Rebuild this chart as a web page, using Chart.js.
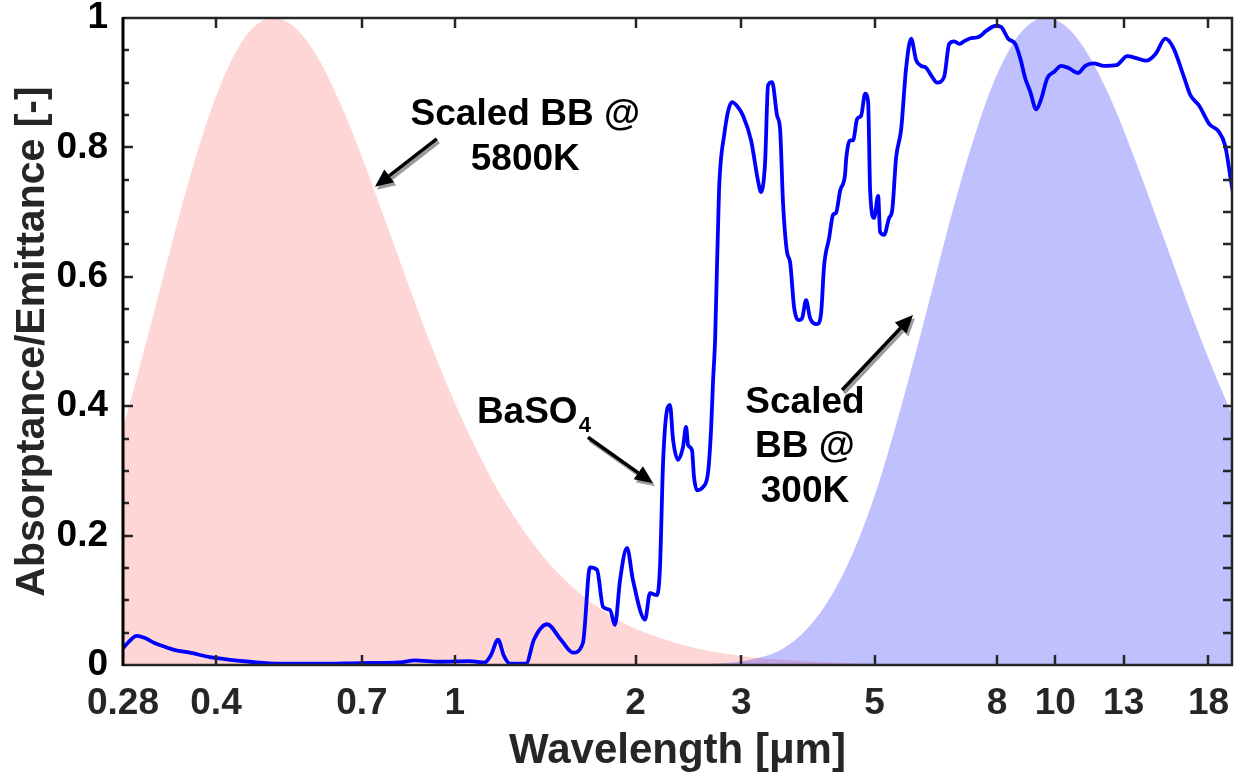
<!DOCTYPE html>
<html>
<head>
<meta charset="utf-8">
<script src="https://cdn.jsdelivr.net/npm/chart.js@4"></script>
<style>
  html, body { margin: 0; padding: 0; background: #fff; overflow: hidden; }
  #wrap { width: 1234px; height: 772px; overflow: hidden; }
</style>
</head>
<body>
<div id="wrap"><canvas id="myChart" width="1234" height="800"></canvas></div>
<script>
// scaled blackbody @ 5800K
const sunWl = [0.28, 0.30, 0.32, 0.34, 0.36, 0.38, 0.40, 0.42, 0.45, 0.48, 0.50, 0.53, 0.56, 0.60, 0.65, 0.70, 0.75, 0.80, 0.90, 1.0, 1.1, 1.2, 1.4, 1.6, 1.8, 2.0, 2.3, 2.6, 3.0, 3.5, 4.0, 5.0, 7.0, 10, 20];
const sunVal = [0.366, 0.468, 0.568, 0.662, 0.747, 0.819, 0.879, 0.926, 0.974, 0.997, 1.0, 0.992, 0.971, 0.928, 0.860, 0.785, 0.710, 0.638, 0.509, 0.405, 0.323, 0.258, 0.169, 0.114, 0.079, 0.056, 0.036, 0.023, 0.014, 0.008, 0.005, 0.002, 0.001, 0.0, 0.0];

// scaled blackbody @ 300K (blue area)
const earthWl = [2.5, 2.9, 3.1, 3.5, 3.87, 4.25, 4.64, 5.03, 5.41, 5.8, 6.19, 6.57, 6.96, 7.35, 7.73, 8.12, 8.7, 9.28, 9.67, 10.25, 10.83, 11.6, 12.57, 13.53, 14.5, 15.47, 17.4, 19.33, 20];
const earthVal = [0.0006, 0.004, 0.008, 0.024, 0.057, 0.109, 0.181, 0.268, 0.366, 0.468, 0.568, 0.662, 0.747, 0.819, 0.879, 0.926, 0.974, 0.997, 1.0, 0.992, 0.971, 0.928, 0.860, 0.785, 0.710, 0.638, 0.509, 0.405, 0.374];

// BaSO4 absorptance / emittance
const baso4Wl = [0.28, 0.287, 0.295, 0.304, 0.316, 0.329, 0.342, 0.362, 0.391, 0.422, 0.455, 0.511, 0.596, 0.695, 0.81, 0.858, 0.944, 1.059, 1.122, 1.148,
  1.18, 1.207, 1.235, 1.314, 1.354, 1.424, 1.502, 1.573, 1.634, 1.679, 1.725, 1.765, 1.813, 1.848, 1.884, 1.935, 1.98, 2.074, 2.113, 2.171,
  2.196, 2.222, 2.256, 2.282, 2.309, 2.353, 2.399, 2.427, 2.446, 2.483, 2.502, 2.531, 2.59, 2.64, 2.671, 2.692, 2.713, 2.754, 2.808, 2.895,
  2.951, 3.02, 3.114, 3.199, 3.236, 3.286, 3.324, 3.376, 3.441, 3.481, 3.521, 3.575, 3.617, 3.673, 3.744, 3.788, 3.846, 3.906, 4.012, 4.074,
  4.121, 4.201, 4.266, 4.315, 4.382, 4.467, 4.484, 4.553, 4.606, 4.677, 4.75, 4.824, 4.879, 4.917, 4.993, 5.07, 5.109, 5.188, 5.289, 5.35,
  5.433, 5.538, 5.645, 5.754, 5.865, 5.979, 6.095, 6.237, 6.358, 6.531, 6.658, 6.787, 6.918, 7.052, 7.189, 7.47, 7.674, 7.974, 8.128, 8.35,
  8.577, 8.743, 8.913, 9.086, 9.297, 9.477, 9.698, 9.962, 10.23, 10.51, 10.92, 11.22, 11.57, 12.07, 12.64, 13.18, 13.65, 14.18, 14.68, 15.26,
  15.73, 16.41, 16.79, 17.38, 18.06, 18.7, 19.2, 19.58, 19.88];
const baso4Val = [0.026, 0.037, 0.045, 0.042, 0.034, 0.028, 0.023, 0.019, 0.012, 0.008, 0.005, 0.002, 0.002, 0.003, 0.004, 0.007, 0.005, 0.006, 0.004, 0.015,
  0.039, 0.014, 0.002, 0.002, 0.039, 0.063, 0.039, 0.019, 0.034, 0.151, 0.147, 0.090, 0.085, 0.062, 0.131, 0.181, 0.131, 0.070, 0.111, 0.108,
  0.151, 0.312, 0.394, 0.402, 0.348, 0.317, 0.337, 0.368, 0.340, 0.332, 0.291, 0.270, 0.275, 0.297, 0.363, 0.440, 0.502, 0.733, 0.818, 0.870,
  0.864, 0.849, 0.811, 0.748, 0.731, 0.776, 0.896, 0.901, 0.849, 0.828, 0.713, 0.638, 0.623, 0.553, 0.533, 0.536, 0.564, 0.536, 0.527, 0.544,
  0.617, 0.660, 0.696, 0.699, 0.733, 0.759, 0.781, 0.811, 0.811, 0.844, 0.849, 0.883, 0.870, 0.733, 0.691, 0.725, 0.669, 0.665, 0.691, 0.702,
  0.785, 0.828, 0.923, 0.968, 0.935, 0.926, 0.923, 0.909, 0.900, 0.909, 0.960, 0.964, 0.960, 0.964, 0.968, 0.971, 0.980, 0.988, 0.986, 0.968,
  0.960, 0.938, 0.907, 0.886, 0.859, 0.875, 0.907, 0.917, 0.926, 0.923, 0.915, 0.926, 0.930, 0.926, 0.927, 0.941, 0.938, 0.934, 0.944, 0.968,
  0.954, 0.907, 0.881, 0.864, 0.836, 0.825, 0.802, 0.754, 0.717];

const xTicks = [0.28, 0.4, 0.7, 1, 2, 3, 5, 8, 10, 13, 18];
const yTicks = [0, 0.2, 0.4, 0.6, 0.8, 1];

const FONT = '"Liberation Sans", Arial, Helvetica, sans-serif';

// text labels and arrows, placed in data units (wavelength, value)
const notes = [
  { x: 1.31, y: 0.835, text: 'Scaled BB @' },
  { x: 1.31, y: 0.765, text: '5800K' },
  { x: 3.83, y: 0.389, text: 'Scaled' },
  { x: 3.83, y: 0.321, text: 'BB @' },
  { x: 3.83, y: 0.252, text: '300K' }
];
const arrows = [
  { from: [0.933, 0.813], to: [0.736, 0.739] },
  { from: [1.666, 0.352], to: [2.138, 0.281] },
  { from: [4.416, 0.425], to: [5.796, 0.541] }
];

function toPoints(xs, ys) {
  return xs.map((v, i) => ({ x: v, y: ys[i] }));
}

function drawArrow(ctx, x1, y1, x2, y2, color) {
  const ang = Math.atan2(y2 - y1, x2 - x1);
  const len = 18, w = 8;
  const bx = x2 - len * Math.cos(ang), by = y2 - len * Math.sin(ang);
  ctx.strokeStyle = color;
  ctx.fillStyle = color;
  ctx.lineWidth = 3.5;
  ctx.beginPath();
  ctx.moveTo(x1, y1);
  ctx.lineTo(bx, by);
  ctx.stroke();
  ctx.beginPath();
  ctx.moveTo(x2, y2);
  ctx.lineTo(bx + w * Math.sin(ang), by - w * Math.cos(ang));
  ctx.lineTo(bx - w * Math.sin(ang), by + w * Math.cos(ang));
  ctx.closePath();
  ctx.fill();
}

const framePlugin = {
  id: 'frame',
  afterDatasetsDraw(chart) {
    const { ctx, chartArea: a, scales: { x, y } } = chart;
    ctx.save();

    // inward tick marks
    ctx.strokeStyle = '#262626';
    ctx.lineWidth = 2.5;
    ctx.beginPath();
    xTicks.forEach(v => {
      const px = Math.round(x.getPixelForValue(v));
      if (px <= a.left + 2 || px >= a.right - 2) return;
      ctx.moveTo(px, a.bottom); ctx.lineTo(px, a.bottom - 10);
      ctx.moveTo(px, a.top); ctx.lineTo(px, a.top + 10);
    });
    for (let i = 1; i < 20; i++) {
      const py = Math.round(y.getPixelForValue(i * 0.05));
      const major = i % 4 === 0;
      ctx.moveTo(a.left, py); ctx.lineTo(a.left + (major ? 10 : 6), py);
      ctx.moveTo(a.right, py); ctx.lineTo(a.right - 9, py);
    }
    ctx.stroke();

    // axes box
    ctx.lineWidth = 2.5;
    ctx.strokeStyle = '#262626';
    ctx.beginPath();
    ctx.moveTo(a.left, a.top); ctx.lineTo(a.right, a.top); ctx.lineTo(a.right, a.bottom); ctx.lineTo(a.left, a.bottom);
    ctx.stroke();
    ctx.strokeStyle = '#000';
    ctx.lineWidth = 3;
    ctx.beginPath();
    ctx.moveTo(a.left, a.top - 1); ctx.lineTo(a.left, a.bottom + 1);
    ctx.stroke();

    // annotation arrows, grey shadow first
    arrows.forEach(ar => {
      const x1 = x.getPixelForValue(ar.from[0]), y1 = y.getPixelForValue(ar.from[1]);
      const x2 = x.getPixelForValue(ar.to[0]), y2 = y.getPixelForValue(ar.to[1]);
      drawArrow(ctx, x1 + 2, y1 + 3, x2 + 2, y2 + 3, '#9a9a9a');
      drawArrow(ctx, x1, y1, x2, y2, '#000');
    });

    // annotation text
    ctx.fillStyle = '#000';
    ctx.font = 'bold 37px ' + FONT;
    ctx.textAlign = 'center';
    ctx.textBaseline = 'alphabetic';
    notes.forEach(n => {
      ctx.fillText(n.text, x.getPixelForValue(n.x), y.getPixelForValue(n.y));
    });

    // BaSO4 with subscript
    const bx = x.getPixelForValue(1.088), by = y.getPixelForValue(0.374);
    ctx.textAlign = 'left';
    ctx.fillText('BaSO', bx, by);
    const wMain = ctx.measureText('BaSO').width;
    ctx.font = 'bold 22px ' + FONT;
    ctx.fillText('4', bx + wMain + 1, by + 9);

    ctx.restore();
  }
};

const ctx = document.getElementById('myChart').getContext('2d');
new Chart(ctx, {
  type: 'line',
  data: {
    datasets: [{
      label: 'BaSO4',
      data: toPoints(baso4Wl, baso4Val),
      borderColor: '#0000ff',
      borderWidth: 3.8,
      pointRadius: 0,
      fill: false,
      cubicInterpolationMode: 'monotone',
      order: 0
    }, {
      label: 'Scaled BB @ 300K',
      data: toPoints(earthWl, earthVal),
      borderWidth: 0,
      borderColor: 'rgba(0,0,0,0)',
      backgroundColor: 'rgba(0,0,255,0.248)',
      pointRadius: 0,
      fill: 'origin',
      cubicInterpolationMode: 'monotone',
      order: 1
    }, {
      label: 'Scaled BB @ 5800K',
      data: toPoints(sunWl, sunVal),
      borderWidth: 0,
      borderColor: 'rgba(0,0,0,0)',
      backgroundColor: 'rgba(255,0,0,0.16)',
      pointRadius: 0,
      fill: 'origin',
      cubicInterpolationMode: 'monotone',
      order: 2
    }]
  },
  options: {
    responsive: false,
    animation: false,
    layout: { padding: { top: 18, right: 2, bottom: 0, left: 0 } },
    plugins: {
      legend: { display: false },
      tooltip: { enabled: false }
    },
    scales: {
      x: {
        type: 'logarithmic',
        min: 0.28,
        max: 19.7,
        grid: { display: false, drawTicks: false },
        border: { display: false },
        afterBuildTicks(s) { s.ticks = xTicks.map(v => ({ value: v })); },
        afterFit(s) { s.height = 135; s.paddingLeft = 0; s.paddingRight = 0; },
        ticks: {
          autoSkip: false,
          maxRotation: 0,
          padding: 17,
          color: '#262626',
          font: { family: FONT, size: 37, weight: 'bold' },
          callback: v => String(v)
        },
        title: {
          display: true,
          text: 'Wavelength [μm]',
          color: '#262626',
          font: { family: FONT, size: 42, weight: 'bold' },
          padding: { top: 0, bottom: 23 }
        }
      },
      y: {
        min: 0,
        max: 1,
        grid: { display: false, drawTicks: false },
        border: { display: false },
        afterBuildTicks(s) { s.ticks = yTicks.map(v => ({ value: v })); },
        afterFit(s) { s.width = 123; s.paddingTop = 0; s.paddingBottom = 0; },
        ticks: {
          padding: 15,
          color: '#000',
          font: { family: FONT, size: 37, weight: 'bold' },
          callback: v => String(v)
        },
        title: {
          display: true,
          text: 'Absorptance/Emittance [-]',
          color: '#262626',
          font: { family: FONT, size: 41, weight: 'bold' },
          padding: { top: 8, bottom: 0 }
        }
      }
    }
  },
  plugins: [framePlugin]
});
</script>
</body>
</html>
